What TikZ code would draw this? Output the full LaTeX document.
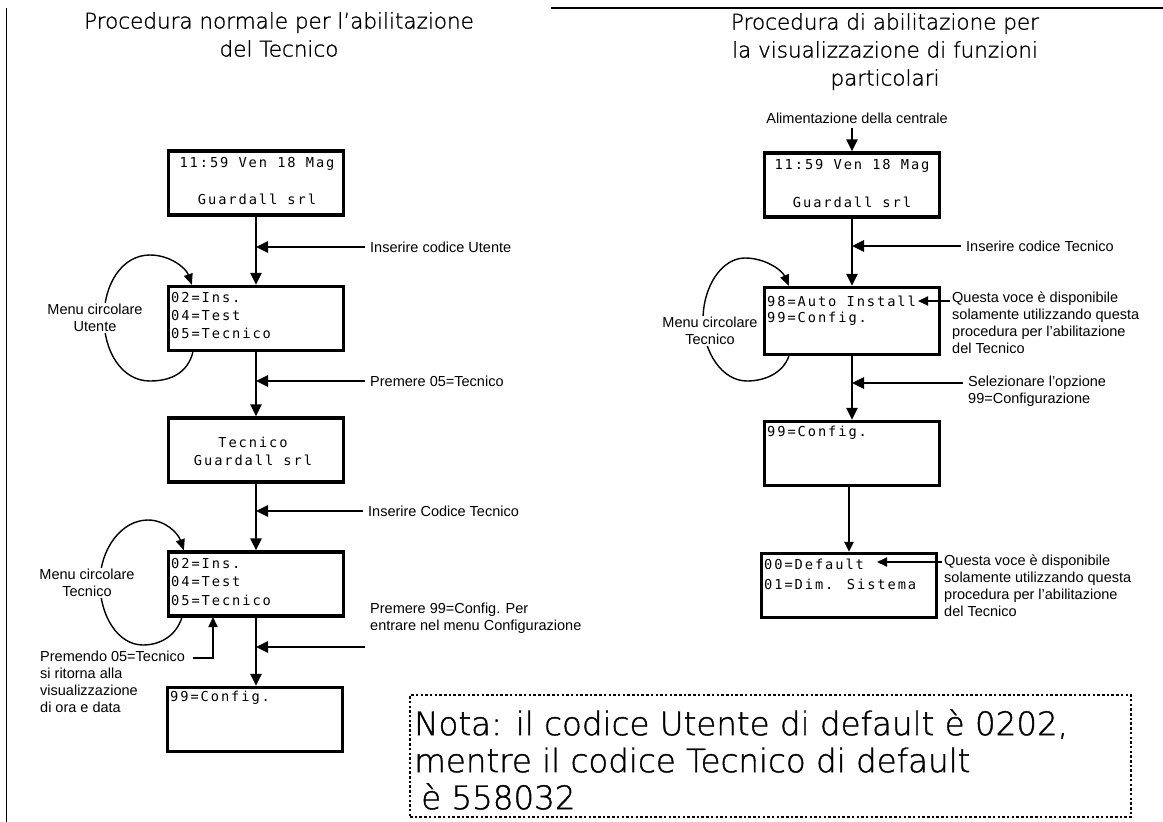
\documentclass[tikz,border=0pt]{standalone}
\usepackage{fontspec}
\setmainfont{Liberation Sans}
\newfontfamily\titlefont{DejaVuSans-ExtraLight.ttf}[FakeBold=1.2]
\newfontfamily\lcdfont{DejaVu Sans Mono}[LetterSpace=14]
\usetikzlibrary{arrows.meta,calc}
\tikzset{
  lcdbox/.style={rectangle, draw, line width=3.3pt, minimum width=175pt, minimum height=64pt, inner sep=0pt},
  lcdtxt/.style={font=\lcdfont\fontsize{13.7}{17.5}\selectfont, inner sep=0pt},
  lbl/.style={font=\fontsize{14.5}{17}\selectfont, inner sep=0pt, align=left},
  ttl/.style={font=\titlefont\fontsize{21.5}{28}\selectfont, inner sep=0pt, align=center, anchor=north},
  flow/.style={line width=2.7pt, -{Triangle[length=12pt,width=11pt]}},
  loopline/.style={line width=1.4pt, -{Triangle[length=11pt,width=9pt]}},
  thinflow/.style={line width=1.7pt, -{Triangle[length=10pt,width=9pt]}},
  frameline/.style={line width=1.5pt}
}
\begin{document}
\begin{tikzpicture}[x=1pt,y=-1pt]
\useasboundingbox (0,0) rectangle (1163,822);
% frame
\coordinate (fa) at (6.5,822);
\coordinate (fb) at (6.5,7.5);
\coordinate (fc) at (551,8);
\coordinate (fd) at (1163,8);
\draw[frameline] (fa) -- (fb);
\draw[frameline] (fc) -- (fd);

% titles
\node[ttl] (t1) at (279,12) {Procedura normale per l’abilitazione\\del Tecnico};
\node[ttl] (t2) at (885,13) {Procedura di abilitazione per\\la visualizzazione di funzioni\\particolari};

% ---------------- left column ----------------
\node[lcdbox] (b1) at (256,183) {};
\node[lcdtxt] (b1a) at (257,164) {11:59 Ven 18 Mag};
\node[lcdtxt] (b1b) at (257,199) {Guardall srl};

\node[lcdbox] (b2) at (256,318.5) {};
\node[lcdtxt, anchor=west] (b2a) at (171,298) {02=Ins.};
\node[lcdtxt, anchor=west] (b2b) at (171,316) {04=Test};
\node[lcdtxt, anchor=west] (b2c) at (171,333) {05=Tecnico};

\node[lcdbox] (b3) at (256,450) {};
\node[lcdtxt] (b3a) at (253,442) {Tecnico};
\node[lcdtxt] (b3b) at (253,460) {Guardall srl};

\node[lcdbox] (b4) at (256,584) {};
\node[lcdtxt, anchor=west] (b4a) at (171,564) {02=Ins.};
\node[lcdtxt, anchor=west] (b4b) at (171,582) {04=Test};
\node[lcdtxt, anchor=west] (b4c) at (171,600) {05=Tecnico};

\node[lcdbox] (b5) at (255,719.5) {};
\node[lcdtxt, anchor=west] (b5a) at (170,698) {99=Config.};

\draw[flow] (b1) -- (b2);
\draw[flow] (b2) -- (b3);
\draw[flow] (b3) -- (b4);
\draw[flow] (b4) -- (b4 |- b5.north);

\node[lbl, anchor=west] (l1) at (370,247) {Inserire codice Utente};
\draw[flow, shorten <=5pt] (l1.west) -- (l1.west -| b1.south);
\node[lbl, anchor=west] (l2) at (370,381) {Premere 05=Tecnico};
\draw[flow, shorten <=5pt] (l2.west) -- (l2.west -| b2.south);
\node[lbl, anchor=west] (l3) at (368,511) {Inserire Codice Tecnico};
\draw[flow, shorten <=5pt] (l3.west) -- (l3.west -| b3.south);
\node[lbl, anchor=north west] (l4) at (370,603) {Premere 99=Config. Per\\entrare nel menu Configurazione};
\coordinate (a4) at (365,647);
\draw[flow] (a4) -- (a4 -| b4.south);

% loops
\draw[loopline] ($(b2.south west)+(26,0)$) .. controls (188,372) and (172,381) .. (150,381)
  .. controls (122,381) and (104,352) .. (104,318)
  .. controls (104,284) and (122,255) .. (150,255)
  .. controls (170,255) and (186,268) .. ($(b2.north west)+(25,0)$);
\node[lbl, align=center, fill=white, inner sep=1.5pt] (m1) at (95,318) {Menu circolare\\Utente};

\draw[loopline] ($(b4.south west)+(15,0)$) .. controls (176,636) and (160,645) .. (143,645)
  .. controls (118,645) and (100,616) .. (100,583)
  .. controls (100,548) and (122,520) .. (148,520)
  .. controls (165,520) and (178,533) .. ($(b4.north west)+(17,0)$);
\node[lbl, align=center, fill=white, inner sep=1.5pt] (m2) at (87,583) {Menu circolare\\Tecnico};

\node[lbl, anchor=north west] (pm) at (40,651) {Premendo 05=Tecnico\\si ritorna alla\\visualizzazione\\di ora e data};
\coordinate (pe) at (193,658);
\coordinate (pt) at (213,617);
\draw[thinflow] (pe) -| (pt);

% ---------------- right column ----------------
\node[lbl] (alim) at (857,118) {Alimentazione della centrale};
\node[lcdbox] (r1) at (852,185) {};
\node[lcdtxt] (r1a) at (852,166) {11:59 Ven 18 Mag};
\node[lcdtxt] (r1b) at (852,202) {Guardall srl};
\draw[flow, shorten <=4pt] (alim.south -| r1.north) -- (r1.north);

\node[lcdbox, minimum height=67pt] (r2) at (852,321) {};
\node[lcdtxt, anchor=west] (r2a) at (767,301) {98=Auto Install};
\node[lcdtxt, anchor=west] (r2b) at (767,319) {99=Config.};

\node[lcdbox] (r3) at (852,453.5) {};
\node[lcdtxt, anchor=west] (r3a) at (767,433) {99=Config.};

\node[lcdbox] (r4) at (849,585.5) {};
\node[lcdtxt, anchor=west] (r4a) at (764,564) {00=Default};
\node[lcdtxt, anchor=west] (r4b) at (764,584) {01=Dim. Sistema};

\draw[flow] (r1) -- (r2);
\draw[flow] (r2) -- (r3);
\draw[thinflow, line width=2.2pt] (r4.north |- r3.south) -- (r4.north);

\node[lbl, anchor=west] (rl1) at (966,246) {Inserire codice Tecnico};
\draw[flow, shorten <=5pt] (rl1.west) -- (rl1.west -| r1.south);
\node[lbl, anchor=north west] (rl2) at (968,376) {Selezionare l’opzione\\99=Configurazione};
\coordinate (ra2) at (963,383);
\draw[flow] (ra2) -- (ra2 -| r2.south);

\node[lbl, anchor=north west] (q1) at (952,292) {Questa voce è disponibile\\solamente utilizzando questa\\procedura per l’abilitazione\\del Tecnico};
\coordinate (qa1) at (950,301);
\coordinate (qb1) at (918,301);
\draw[thinflow, line width=2pt] (qa1) -- (qb1);

\node[lbl, anchor=north west] (q2) at (944,555) {Questa voce è disponibile\\solamente utilizzando questa\\procedura per l’abilitazione\\del Tecnico};
\coordinate (qa2) at (942,562);
\coordinate (qb2) at (877,562);
\draw[thinflow, line width=2pt] (qa2) -- (qb2);

\draw[loopline] ($(r2.south west)+(26,0)$) .. controls (783,373) and (765,381) .. (747,381)
  .. controls (722,381) and (703,352) .. (703,320)
  .. controls (703,286) and (722,258) .. (745,258)
  .. controls (765,258) and (782,270) .. ($(r2.north west)+(26,0)$);
\node[lbl, align=center, fill=white, inner sep=1.5pt] (mr) at (710,331) {Menu circolare\\Tecnico};

% nota
\node[draw, line width=2.5pt, dash pattern=on 2.5pt off 2.2pt, minimum width=721pt, minimum height=122pt, inner sep=0pt] (nota) at (770.5,756) {};
\node[font=\titlefont\fontsize{32.5}{37}\selectfont, align=left, anchor=north west, inner sep=0pt] (notatxt) at (414,709) {Nota: il codice Utente di default è 0202,\\mentre il codice Tecnico di default\\\hspace*{7pt}è 558032};
\end{tikzpicture}
\end{document}
